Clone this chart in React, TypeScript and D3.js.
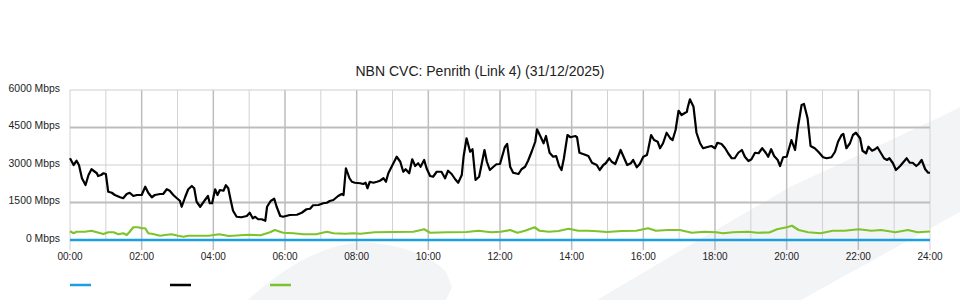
import React from "react";
import * as d3 from "d3";

const chartTitle = "NBN CVC: Penrith (Link 4) (31/12/2025)";
const yTickValues = [0, 1500, 3000, 4500, 6000];
const xTickHours = [0, 2, 4, 6, 8, 10, 12, 14, 16, 18, 20, 22, 24];

// minutes since midnight / Mbps
const blackMinutes = [
  0, 6, 11, 15, 20, 26, 31, 36, 45, 47, 52, 56, 60, 64, 70, 75, 84, 89, 95, 100, 106, 112, 120, 126, 131, 137, 142, 151, 156, 162, 167, 173, 179, 184, 187, 193, 198, 204, 208, 212, 218, 226, 231, 234, 238, 243,
  247, 251, 257, 261, 265, 269, 273, 279, 287, 296, 301, 306, 310, 315, 321, 327, 330, 336, 342, 346, 352, 357, 368, 380, 388, 396, 402, 407, 416, 424, 430, 435, 441, 449, 455, 458, 462, 468, 472, 477,
  486, 491, 495, 498, 502, 508, 514, 519, 525, 529, 533, 540, 547, 553, 558, 562, 568, 573, 578, 583, 587, 593, 597, 603, 608, 614, 622, 628, 633, 639, 645, 650, 656, 659, 664, 670, 674, 679, 685, 689, 694, 698, 703, 709, 714, 720,
  728, 732, 737, 742, 751, 756, 762, 767, 773, 779, 782, 788, 793, 797, 803, 809, 814, 819, 823, 827, 833, 838, 846, 849, 853, 859, 868, 874, 882, 887, 893, 897, 903, 907, 913, 922, 928, 933, 939, 943, 949, 954, 960, 966,
  968, 973, 978, 984, 988, 993, 999, 1005, 1009, 1014, 1019, 1024, 1033, 1034, 1038, 1044, 1049, 1055, 1060, 1069, 1074, 1080, 1084, 1091, 1097, 1102, 1108, 1113, 1119, 1125, 1130, 1136, 1141, 1147, 1153, 1159, 1165, 1169, 1174, 1179, 1185, 1189, 1194, 1200, 1208,
  1214, 1219, 1225, 1229, 1235, 1240, 1247, 1253, 1261, 1267, 1275, 1281, 1286, 1292, 1295, 1300, 1306, 1311, 1316, 1323, 1327, 1333, 1337, 1343, 1348, 1352, 1358, 1363, 1368, 1372, 1378, 1383, 1390, 1396, 1401, 1406, 1411, 1417, 1421, 1426, 1432, 1437, 1440,
];
const blackValues = [
  3270, 3000, 3170, 3000, 2470, 2200, 2600, 2830, 2670, 2560, 2600, 2670, 2640, 1930, 1890, 1800, 1710, 1670, 1840, 1890, 1760, 1800, 1800, 2130, 1890, 1710, 1800, 1840, 1840, 2030, 1970, 1800, 1670, 1570, 1330, 1730, 2030, 2160, 2070, 1530, 1330, 1600, 1760, 1470, 1470, 2030,
  1800, 2000, 1970, 2190, 2070, 1600, 1170, 930, 910, 960, 1090, 870, 930, 830, 830, 770, 1330, 1560, 1650, 1330, 960, 930, 1000, 1010, 1090, 1230, 1250, 1390, 1400, 1470, 1490, 1560, 1600, 1760, 1840, 1800, 2870, 2470, 2330, 2290,
  2270, 2240, 2290, 2070, 2330, 2290, 2330, 2370, 2470, 2330, 2670, 3000, 3330, 3130, 2730, 2830, 2670, 3230, 2960, 3070, 2930, 3200, 2870, 2560, 2530, 2730, 2730, 2470, 2770, 2640, 2430, 2290, 2600, 3330, 4070, 3530, 3630, 2400, 2530, 3000, 3600, 3130, 2800, 2930, 3030, 3040,
  3710, 3840, 2930, 2690, 2640, 2830, 2930, 3170, 3530, 3930, 4430, 4130, 3870, 4160, 3490, 3330, 3360, 2960, 2800, 3270, 4200, 4110, 4160, 4110, 3490, 3440, 3360, 3090, 3000, 2800, 3000, 3070, 3270, 3130, 3040, 3600, 3270, 3000, 3070, 3200, 2910, 3040, 3330, 3400,
  3600, 4200, 4000, 3930, 3670, 3870, 4290, 4070, 4000, 4400, 5170, 5000, 5130, 5270, 5630, 5330, 4290, 3870, 3670, 3730, 3760, 3670, 3890, 3840, 3670, 3470, 3270, 3270, 3490, 3600, 3330, 3160, 3230, 3490, 3470, 3670, 3490, 3330, 3630, 3360, 3200, 2960, 3310, 3330, 4000,
  3600, 4530, 5400, 5440, 4870, 3760, 3670, 3530, 3310, 3270, 3310, 3530, 3930, 4200, 4240, 3670, 3870, 4200, 4290, 4070, 3570, 3470, 3730, 3570, 3630, 3710, 3470, 3270, 3200, 3270, 3070, 2800, 2960, 3130, 3270, 3090, 3090, 2960, 3040, 3200, 2830, 2690, 2690,
];

const greenMinutes = [
  0, 6, 11, 25, 36, 45, 56, 64, 73, 81, 89, 95, 100, 106, 114, 120, 126, 131, 139, 151, 159, 170, 181, 190, 198, 215,
  232, 250, 266, 299, 319, 335, 343, 357, 374, 391, 412, 430, 441, 461, 474, 486, 510, 542, 575, 593, 603, 632, 664, 684, 705, 721, 737, 749, 762, 778, 786, 802, 818, 835, 851, 867, 883, 899, 924, 948, 968, 981, 1001, 1021, 1041, 1062, 1082, 1094, 1110, 1135, 1151, 1171, 1184, 1200, 1209, 1220, 1236, 1257, 1277, 1297, 1321, 1342, 1358, 1382, 1403, 1419, 1440,
];
const greenValues = [
  350, 270, 330, 330, 370, 310, 240, 310, 310, 230, 270, 200, 330, 510, 510, 470, 470, 270, 240, 170, 200, 230, 170, 130, 170, 170,
  170, 230, 160, 210, 190, 310, 400, 290, 270, 230, 230, 330, 270, 250, 270, 250, 310, 320, 330, 430, 290, 310, 320, 370, 310, 330, 400, 290, 370, 510, 370, 330, 360, 450, 370, 370, 350, 320, 360, 370, 470, 370, 400, 400, 290, 330, 310, 270, 310, 330, 290, 300, 430, 510, 570, 400, 310, 270, 370, 370, 430, 370, 400, 310, 400, 310, 340,
];

const blueMinutes = [0, 1440];
const blueValues = [0, 0];

const seriesColors = ["#1a9fe0", "#000000", "#7dc32c"];

const W = 960;
const H = 300;
const left = 70;
const right = 930;
const top = 90;
const bottom = 240;

export default function App() {
  const x = d3.scaleLinear().domain([0, 1440]).range([left, right]);
  const y = d3.scaleLinear().domain([0, 6000]).range([bottom, top]);

  const mk = (ms: number[], vs: number[]) =>
    d3
      .line<number>()
      .x((_, i) => x(ms[i]))
      .y((v) => y(v))(vs) || "";

  const hours = d3.range(0, 25);
  const font = "'Liberation Sans', Arial, sans-serif";

  return (
    <svg
      width={W}
      height={H}
      style={{ position: "absolute", left: 0, top: 0, background: "#fff" }}
      fontFamily={font}
    >
      {/* watermark */}
      <path d="M248,300 C280,270 320,245 362,242 C400,244 432,256 446,272 L452,287 L446,300 Z" fill="#f3f4f6" />
      <path d="M597,300 L690,245 L790,187 L940,117 L960,107 L960,212 L801,300 Z" fill="#f3f4f6" />

      {/* vertical grid */}
      {hours.map((h) => {
        const major = h % 2 === 0;
        return (
          <line
            key={"v" + h}
            x1={x(h * 60)}
            x2={x(h * 60)}
            y1={top}
            y2={major ? bottom + 10 : bottom}
            stroke={major && h !== 0 && h !== 24 ? "#bdbdbd" : "#d2d2d2"}
            strokeWidth={major && h !== 0 && h !== 24 ? 1.5 : 1}
          />
        );
      })}
      {/* horizontal grid */}
      {yTickValues.map((v) => {
        const dark = v === 4500 || v === 1500;
        return (
          <line
            key={"h" + v}
            x1={left}
            x2={right}
            y1={y(v)}
            y2={y(v)}
            stroke={dark ? "#bdbdbd" : "#d0d0d0"}
            strokeWidth={dark ? 2 : 1.2}
          />
        );
      })}

      {/* series */}
      <path d={mk(greenMinutes, greenValues)} fill="none" stroke={seriesColors[2]} strokeWidth={2.2} strokeLinejoin="round" />
      <path d={mk(blackMinutes, blackValues)} fill="none" stroke={seriesColors[1]} strokeWidth={2.2} strokeLinejoin="round" />
      <path d={mk(blueMinutes, blueValues)} fill="none" stroke={seriesColors[0]} strokeWidth={2.5} />

      {/* y labels */}
      {yTickValues.map((v) => (
        <text key={"yl" + v} x={60} y={y(v) + 1.5} textAnchor="end" fontSize={10.4} fill="#222">
          {v} Mbps
        </text>
      ))}
      {/* x labels */}
      {xTickHours.map((h) => (
        <text key={"xl" + h} x={x(h * 60)} y={260} textAnchor="middle" fontSize={10} fill="#222">
          {String(h).padStart(2, "0")}:00
        </text>
      ))}

      {/* title */}
      <text x={480} y={76} textAnchor="middle" fontSize={14} fill="#222">
        {chartTitle}
      </text>

      {/* legend */}
      {seriesColors.map((c, i) => (
        <line key={"lg" + i} x1={70 + i * 100} x2={91 + i * 100} y1={285} y2={285} stroke={c} strokeWidth={2.5} />
      ))}
    </svg>
  );
}
